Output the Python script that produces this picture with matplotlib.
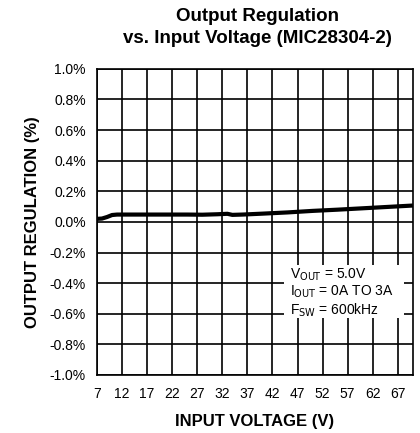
import matplotlib
matplotlib.use("Agg")
import matplotlib.pyplot as plt
from matplotlib.patches import Rectangle

plt.rcParams['font.family'] = ['Liberation Sans', 'DejaVu Sans']

vin = [7, 8, 9, 10, 11, 15, 20, 25, 28, 31, 33, 34, 36, 40, 45, 50, 55, 60, 65, 70]
reg = [0.02, 0.022, 0.032, 0.045, 0.048, 0.048, 0.048, 0.048, 0.047, 0.05, 0.053, 0.046, 0.048, 0.054, 0.062, 0.072, 0.08, 0.089, 0.098, 0.107]

xticks = [7, 12, 17, 22, 27, 32, 37, 42, 47, 52, 57, 62, 67]
yticks = [-1.0, -0.8, -0.6, -0.4, -0.2, 0.0, 0.2, 0.4, 0.6, 0.8, 1.0]

fig = plt.figure(figsize=(4.2, 4.33), dpi=100)
ax = fig.add_axes([0.231, 0.134, 0.752, 0.707])
ax.set_xlim(7, 70)
ax.set_ylim(-1.0, 1.0)
ax.set_xticks(xticks)
ax.set_yticks(yticks)
ax.set_xticklabels([str(t) for t in xticks], fontsize=10)
ax.set_yticklabels([f"{t:.1f}%" for t in yticks], fontsize=10)
ax.tick_params(axis='x', length=0, pad=9)
ax.tick_params(axis='y', length=0, pad=8)
ax.grid(True, color='black', linewidth=1.2)
for s in ax.spines.values():
    s.set_linewidth(1.2)
ax.plot(vin, reg, color='black', linewidth=3.0, solid_capstyle='butt', zorder=3)

ax.add_patch(Rectangle((44.2, -0.627), 24.0, 0.347, facecolor='white', edgecolor='none', zorder=2.5))
ax.text(45.4, -0.29, "V$_{\\rm OUT}$ = 5.0V\nI$_{\\rm OUT}$ = 0A TO 3A\nF$_{\\rm SW}$ = 600kHz",
        fontsize=10, va='top', ha='left', linespacing=1.08, zorder=4)

ax.set_xlabel("INPUT VOLTAGE (V)", fontsize=12, fontweight='bold', labelpad=9)
ax.set_ylabel("OUTPUT REGULATION (%)", fontsize=12, fontweight='bold', labelpad=7)
fig.text(0.613, 1 - 21 / 433, "Output Regulation", ha='center', va='baseline',
         fontsize=13.5, fontweight='bold')
fig.text(0.613, 1 - 43 / 433, "vs. Input Voltage (MIC28304-2)", ha='center', va='baseline',
         fontsize=13.5, fontweight='bold')

fig.savefig("out.png", dpi=100)
